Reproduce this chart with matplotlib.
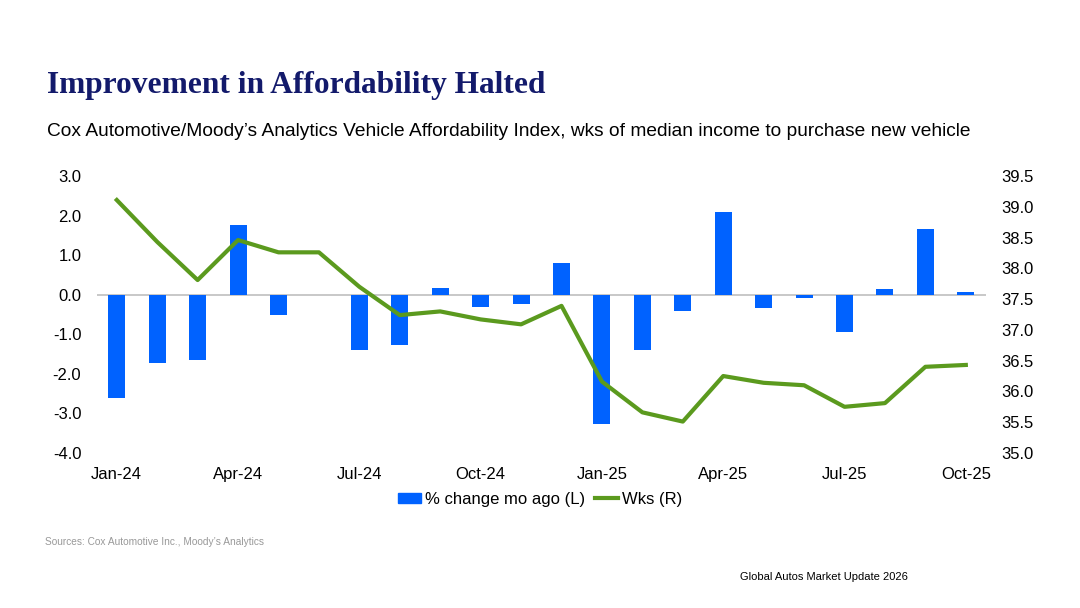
import numpy as np
import matplotlib.pyplot as plt
from matplotlib.patches import Patch
from matplotlib.lines import Line2D

months = ['Jan-24', 'Feb-24', 'Mar-24', 'Apr-24', 'May-24', 'Jun-24',
          'Jul-24', 'Aug-24', 'Sep-24', 'Oct-24', 'Nov-24', 'Dec-24',
          'Jan-25', 'Feb-25', 'Mar-25', 'Apr-25', 'May-25', 'Jun-25',
          'Jul-25', 'Aug-25', 'Sep-25', 'Oct-25']

# % change from month ago (left axis)
pct_change = [-2.61, -1.73, -1.64, 1.75, -0.52, 0.0,
              -1.41, -1.26, 0.17, -0.31, -0.24, 0.81,
              -3.27, -1.41, -0.42, 2.09, -0.33, -0.08,
              -0.94, 0.14, 1.65, 0.08]

# weeks of median income (right axis)
wks = [39.11, 38.43, 37.81, 38.46, 38.26, 38.26,
       37.70, 37.24, 37.30, 37.17, 37.09, 37.39,
       36.16, 35.66, 35.51, 36.25, 36.14, 36.10,
       35.75, 35.81, 36.40, 36.43]

left_ticks = [3.0, 2.0, 1.0, 0.0, -1.0, -2.0, -3.0, -4.0]
right_ticks = [39.5, 39.0, 38.5, 38.0, 37.5, 37.0, 36.5, 36.0, 35.5, 35.0]

BLUE = '#0062ff'
GREEN = '#5b9a1e'
NAVY = '#131a6b'

plt.rcParams['font.family'] = ['Liberation Sans', 'DejaVu Sans']

fig = plt.figure(figsize=(10.8, 6.08), dpi=100)
ax = fig.add_axes([0.0894, 0.255, 0.8236, 0.4555])
x = np.arange(len(months))

ax.bar(x, pct_change, width=0.42, color=BLUE, zorder=2)
ax.axhline(0, color='#bfbfbf', lw=1.2, zorder=1)
ax.set_xlim(-0.5, len(months) - 0.5)
ax.set_ylim(-4, 3)
ax.set_yticks(left_ticks)
ax.set_yticklabels([f'{v:.1f}' for v in left_ticks], fontsize=12)
ax.set_xticks(x[::3])
ax.set_xticklabels(months[::3], fontsize=12)
ax.tick_params(length=0, pad=10)
ax.tick_params(axis='y', pad=11)
for s in ax.spines.values():
    s.set_visible(False)

ax2 = ax.twinx()
ax2.plot(x, wks, color=GREEN, lw=3.0, zorder=3)
ax2.set_ylim(35, 39.5)
ax2.set_yticks(right_ticks)
ax2.set_yticklabels([f'{v:.1f}' for v in right_ticks], fontsize=12)
ax2.tick_params(length=0, pad=11)
for s in ax2.spines.values():
    s.set_visible(False)

handles = [Patch(color=BLUE), Line2D([0], [0], color=GREEN, lw=3)]
fig.legend(handles, ['% change mo ago (L)', 'Wks (R)'], loc='center',
           bbox_to_anchor=(0.5, 0.179), ncol=2, frameon=False, fontsize=12,
           handlelength=1.4, handleheight=0.6, handletextpad=0.2,
           columnspacing=0.6)

fig.text(0.0435, 0.859, 'Improvement in Affordability Halted', family='Liberation Serif',
         fontweight='bold', fontsize=22.6, color=NAVY, va='center')
fig.text(0.0435, 0.783, 'Cox Automotive/Moody\u2019s Analytics Vehicle Affordability Index, '
         'wks of median income to purchase new vehicle', fontsize=13.8, va='center')
fig.text(0.0417, 0.108, 'Sources: Cox Automotive Inc., Moody\u2019s Analytics',
         fontsize=7.25, color='#999999', va='center')
fig.text(0.685, 0.051, 'Global Autos Market Update 2026', fontsize=8, va='center')

fig.savefig('out.png', dpi=100)
